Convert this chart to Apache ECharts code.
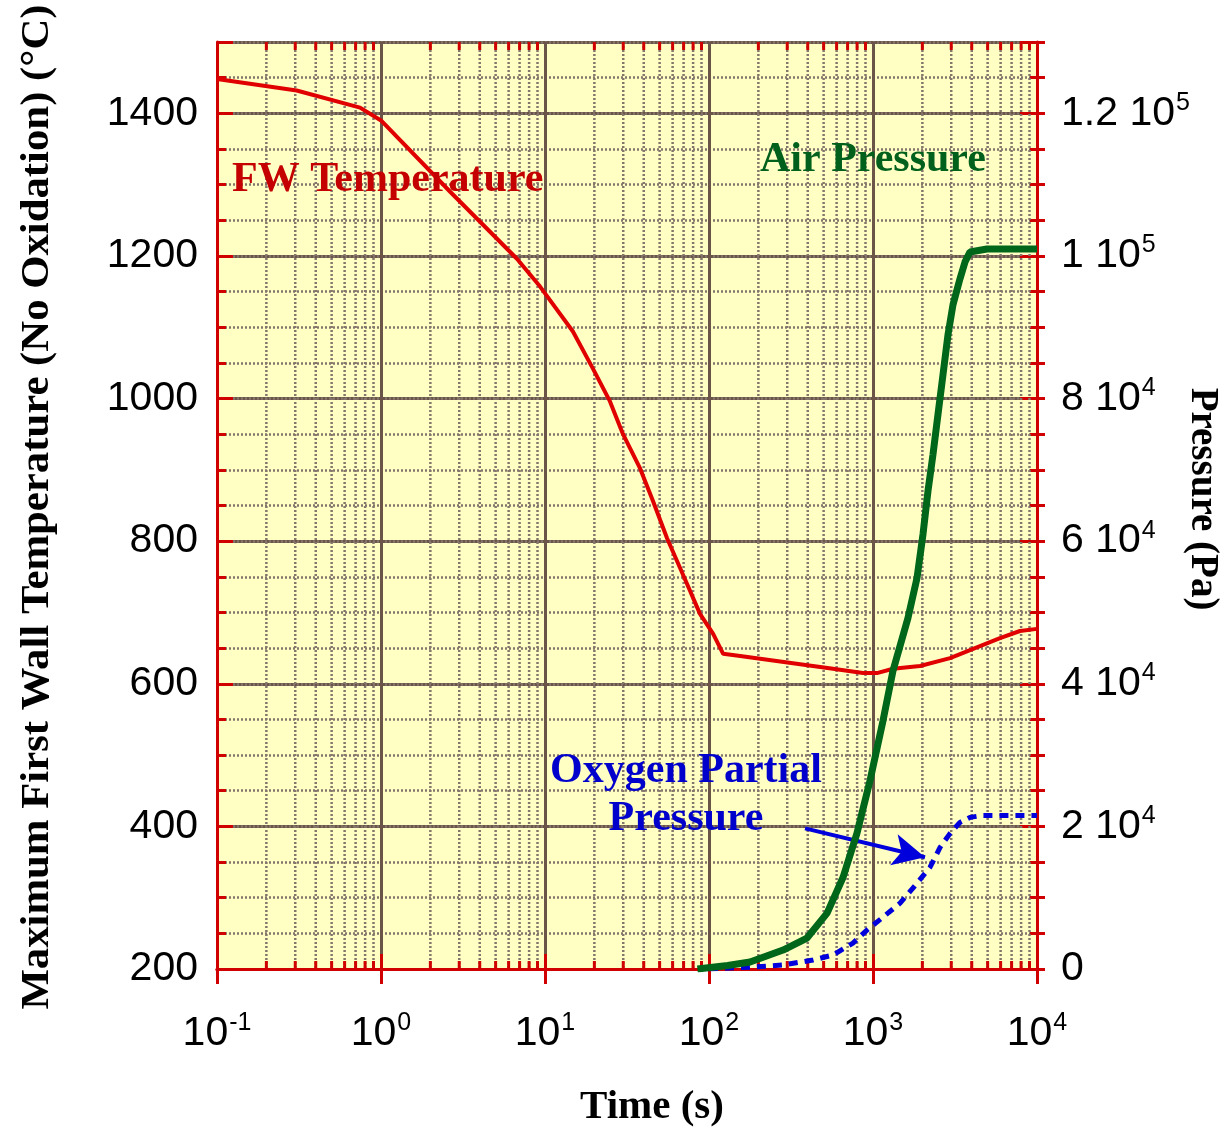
<!DOCTYPE html>
<html>
<head>
<meta charset="utf-8">
<script src="https://cdn.jsdelivr.net/npm/echarts@6/dist/echarts.min.js"></script>
<style>
html,body{margin:0;padding:0;background:#fff;}
#chart{width:1227px;height:1130px;}
</style>
</head>
<body>
<div id="chart"></div>
<script>
// ---------- data ----------
const fwTime = [0.1, 0.306, 0.745, 1.0, 2.64, 6.74, 9.33, 14.8, 19.6, 24.9, 29.9, 38.0, 45.6, 55.5, 73.5, 88.1, 106, 122, 155, 570, 869, 1057, 1324, 1936, 2951, 5947, 7870, 10000];
const fwTemp = [1448, 1432, 1408, 1390, 1290, 1196, 1157, 1094, 1042, 996, 950, 902, 856, 804, 740, 698, 670, 642, 639, 621, 615, 615, 621, 625, 636, 664, 674, 677];

const airTime = [85, 130, 178, 283, 396, 525, 657, 798, 959, 1151, 1324, 1634, 1855, 2018, 2163, 2322, 2490, 2672, 2866, 3074, 3390, 3640, 3900, 4954, 10000];
const airPressure = [0, 500, 980, 2660, 4340, 7830, 12870, 19020, 26430, 34830, 41820, 49230, 54830, 60980, 66990, 72170, 77760, 83360, 88950, 93150, 96780, 99160, 100560, 100980, 100980];

const o2Time = [100, 185, 283, 431, 570, 755, 919, 1151, 1462, 1855, 2228, 2564, 2951, 3390, 3900, 4688, 10000];
const o2Pressure = [0, 280, 560, 1260, 1960, 3640, 5460, 7270, 9230, 12030, 14270, 17060, 19020, 20560, 21260, 21540, 21540];

// minor (2..9 per decade) time ticks
const minorTimeTicks = [0.2,0.3,0.4,0.5,0.6,0.7,0.8,0.9, 2,3,4,5,6,7,8,9, 20,30,40,50,60,70,80,90, 200,300,400,500,600,700,800,900, 2000,3000,4000,5000,6000,7000,8000,9000];

// annotation arrow (data coords)
const arrowFrom = [385, 19720];
const arrowTo = [2075, 15664];

// ---------- styles ----------
const RED_AXIS = '#d00000';
const GRID_SOLID = '#6b5548';
const GRID_DASH = '#85766c';
const SANS = '"Liberation Sans", Arial, sans-serif';
const SERIF = '"Liberation Serif", "Times New Roman", serif';

const zip = (a, b) => a.map((v, i) => [v, b[i]]);

const chart = echarts.init(document.getElementById('chart'), null, {renderer: 'canvas'});

// measure left title to fit its length
const leftTitle = 'Maximum First Wall Temperature (No Oxidation) (°C)';
const mctx = document.createElement('canvas').getContext('2d');
mctx.font = 'bold 41px "Liberation Serif"';
const leftTitleScale = 1005 / mctx.measureText(leftTitle).width;

const supRich = {
  b: {fontSize: 41, fontFamily: SANS, color: '#000', verticalAlign: 'middle', lineHeight: 46},
  s: {fontSize: 25, fontFamily: SANS, color: '#000', verticalAlign: 'top', lineHeight: 46, padding: [0, 0, 0, 1]}
};

const option = {
  backgroundColor: '#ffffff',
  animation: false,
  grid: {left: 217, right: 190, top: 42, bottom: 161, show: true, backgroundColor: '#ffffc4', borderWidth: 0, containLabel: false},
  xAxis: [
    {
      type: 'log', logBase: 10, min: 0.1, max: 10000, position: 'bottom',
      axisLine: {show: true, lineStyle: {color: RED_AXIS, width: 3}},
      axisTick: {show: true, inside: true, length: 15, lineStyle: {color: RED_AXIS, width: 3}},
      minorTick: {show: false},
      splitLine: {show: true, lineStyle: {color: GRID_SOLID, width: 3}},
      axisLabel: {
        margin: 42,
        formatter: v => '{b|10}{s|' + Math.round(Math.log10(v)) + '}',
        rich: supRich
      }
    },
    {
      type: 'log', logBase: 10, min: 0.1, max: 10000, position: 'top',
      axisLine: {show: true, lineStyle: {color: RED_AXIS, width: 3}},
      axisTick: {show: true, inside: true, length: 15, lineStyle: {color: RED_AXIS, width: 3}},
      splitLine: {show: false},
      axisLabel: {show: false}
    }
  ],
  yAxis: [
    {
      type: 'value', min: 200, max: 1500, interval: 200, position: 'left',
      axisLine: {show: true, lineStyle: {color: RED_AXIS, width: 3}},
      axisTick: {show: true, inside: true, length: 16, lineStyle: {color: RED_AXIS, width: 3}},
      splitLine: {show: true, lineStyle: {color: GRID_SOLID, width: 3}},
      axisLabel: {
        margin: 19, fontSize: 41, fontFamily: SANS, color: '#000',
        formatter: v => (v > 1400 ? '' : String(v))
      }
    },
    {
      type: 'value', min: 200, max: 1500, interval: 50, position: 'left',
      axisLine: {show: false},
      axisTick: {show: true, inside: true, length: 9, lineStyle: {color: RED_AXIS, width: 3}},
      splitLine: {show: true, lineStyle: {color: GRID_DASH, width: 2.5, type: [2, 2]}},
      axisLabel: {show: false}
    },
    {
      type: 'value', min: 0, max: 130000, interval: 20000, position: 'right',
      axisLine: {show: true, lineStyle: {color: RED_AXIS, width: 3}},
      axisTick: {show: true, inside: true, length: 17, lineStyle: {color: RED_AXIS, width: 3}},
      splitLine: {show: false},
      axisLabel: {
        margin: 24,
        formatter: function (v) {
          if (v > 120000) return '';
          if (v === 0) return '{b|0}';
          const e = Math.floor(Math.log10(v) + 1e-9);
          const m = Math.round(v / Math.pow(10, e) * 10) / 10;
          return '{b|' + m + ' 10}{s|' + e + '}';
        },
        rich: supRich
      }
    },
    {
      type: 'value', min: 0, max: 130000, interval: 5000, position: 'right',
      axisLine: {show: false},
      axisTick: {show: true, inside: true, length: 7, lineStyle: {color: RED_AXIS, width: 3}},
      splitLine: {show: false},
      axisLabel: {show: false}
    },
    {
      type: 'value', min: 0, max: 130000, interval: 5000, position: 'right',
      axisLine: {show: false},
      axisTick: {show: true, inside: false, length: 8, lineStyle: {color: RED_AXIS, width: 3}},
      splitLine: {show: false},
      axisLabel: {show: false}
    }
  ],
  series: [
    {
      type: 'custom',
      name: 'minor time grid',
      xAxisIndex: 0, yAxisIndex: 0,
      z: 1, silent: true,
      data: minorTimeTicks.map(v => [v, 200]),
      renderItem: function (params, api) {
        const x = api.coord([api.value(0), 200])[0];
        const cs = params.coordSys;
        const top = cs.y, bottom = cs.y + cs.height;
        return {
          type: 'group',
          children: [
            {type: 'line', shape: {x1: x, y1: top, x2: x, y2: bottom},
             style: {stroke: GRID_DASH, lineWidth: 2.5, lineDash: [2, 2]}},
            {type: 'line', shape: {x1: x, y1: bottom, x2: x, y2: bottom - 8},
             style: {stroke: RED_AXIS, lineWidth: 3}},
            {type: 'line', shape: {x1: x, y1: top, x2: x, y2: top + 8},
             style: {stroke: RED_AXIS, lineWidth: 3}}
          ]
        };
      }
    },
    {
      type: 'line', name: 'FW Temperature',
      xAxisIndex: 0, yAxisIndex: 0, z: 3,
      data: zip(fwTime, fwTemp),
      showSymbol: false, smooth: false,
      lineStyle: {color: '#e00000', width: 4}
    },
    {
      type: 'line', name: 'Oxygen Partial Pressure',
      xAxisIndex: 0, yAxisIndex: 2, z: 4,
      data: zip(o2Time, o2Pressure),
      showSymbol: false,
      lineStyle: {color: '#0000dd', width: 5, type: [9, 7]},
      markLine: {
        silent: true,
        symbol: ['none', 'arrow'],
        symbolSize: [24, 32],
        label: {show: false},
        lineStyle: {color: '#0000dd', width: 4, type: 'solid'},
        data: [[{coord: arrowFrom}, {coord: arrowTo}]]
      }
    },
    {
      type: 'line', name: 'Air Pressure',
      xAxisIndex: 0, yAxisIndex: 2, z: 5,
      data: zip(airTime, airPressure),
      showSymbol: false,
      lineStyle: {color: '#006619', width: 7}
    }
  ],
  graphic: [
    {type: 'text', z: 10, left: 232, top: 159,
     style: {text: 'FW Temperature', font: 'bold 42px ' + SERIF, fill: '#c40000'}},
    {type: 'text', z: 10, left: 760, top: 139,
     style: {text: 'Air Pressure', font: 'bold 42px ' + SERIF, fill: '#00601c'}},
    {type: 'text', z: 10, x: 686, y: 747,
     style: {text: 'Oxygen Partial\nPressure', font: 'bold 42px ' + SERIF, fill: '#0000cc', align: 'center', verticalAlign: 'top', lineHeight: 48}},
    {type: 'text', z: 10, x: 652, y: 1107,
     style: {text: 'Time (s)', font: 'bold 41px ' + SERIF, fill: '#000', align: 'center', verticalAlign: 'middle'}},
    {type: 'text', z: 10, x: 1202, y: 499, rotation: -Math.PI / 2,
     style: {text: 'Pressure (Pa)', font: 'bold 39px ' + SERIF, fill: '#000', align: 'center', verticalAlign: 'middle'}},
    {type: 'text', z: 10, x: 37, y: 507, rotation: Math.PI / 2, scaleX: leftTitleScale,
     style: {text: leftTitle, font: 'bold 41px ' + SERIF, fill: '#000', align: 'center', verticalAlign: 'middle'}}
  ]
};

chart.setOption(option);
</script>
</body>
</html>
